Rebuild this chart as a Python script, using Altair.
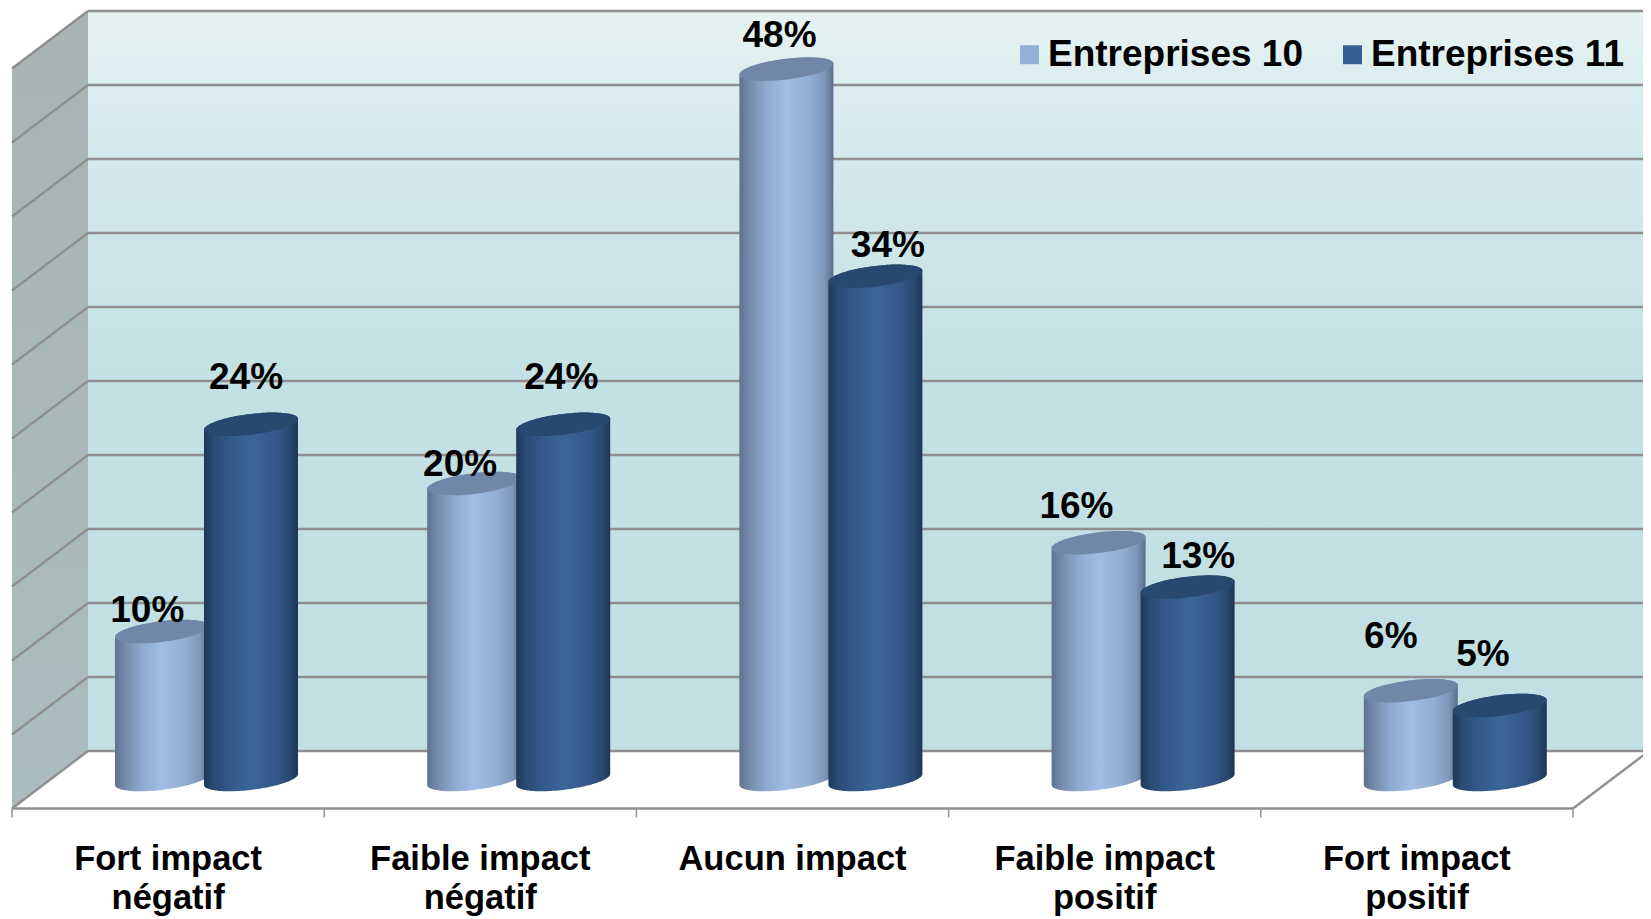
import numpy as np
import pandas as pd
import altair as alt

categories = ["Fort impact\nnégatif", "Faible impact\nnégatif", "Aucun impact",
              "Faible impact\npositif", "Fort impact\npositif"]
series_names = ["Entreprises 10", "Entreprises 11"]
entreprises_10 = [10, 20, 48, 16, 6]
entreprises_11 = [24, 24, 34, 13, 5]

# hand-placed data labels: offset from the bar centre (category units) and height above it (% units)
label_dx_10 = [-0.047, -0.045, -0.022, -0.071, -0.064]
label_dy_10 = [0.85, 0.75, 1.75, 1.9, 3.1]
label_dx_11 = [-0.016, -0.006, 0.04, 0.034, -0.054]
label_dy_11 = [2.6, 2.6, 1.55, 1.5, 2.9]

# ---- scales: one category = 312.2 px, one percentage point = 14.8 px
PX_U, PX_V = 312.2, 14.8
W, H = 1635, 909
X_DOMAIN = [(8 - 12) / PX_U, (8 + W - 12) / PX_U]
Y_DOMAIN = [(783 - (8 + H)) / PX_V, (783 - 8) / PX_V]
xs = alt.Scale(domain=X_DOMAIN, nice=False, zero=False)
ys = alt.Scale(domain=Y_DOMAIN, nice=False, zero=False)
X = lambda f: alt.X(f, type="quantitative", scale=xs, axis=None)
Y = lambda f: alt.Y(f, type="quantitative", scale=ys, axis=None)

# ---- 3D box geometry in data units
DEPTH_U, DEPTH_V = 76 / PX_U, 57.5 / PX_V
BACK0 = (783 - 751) / PX_V
FRONT0 = BACK0 - DEPTH_V
TOP_STEPS = list(range(0, 55, 5))
X_END = 5 + DEPTH_U

wall_back = pd.DataFrame([dict(x=DEPTH_U, x2=X_END, y=BACK0, y2=BACK0 + 50)])
wall_left = pd.DataFrame([
    dict(x=0, y=FRONT0 + 50, y2=FRONT0),
    dict(x=DEPTH_U, y=BACK0 + 50, y2=BACK0),
])

grid = [dict(x=DEPTH_U, x2=X_END, y=BACK0 + s, y2=BACK0 + s) for s in TOP_STEPS]
grid += [dict(x=0, x2=DEPTH_U, y=FRONT0 + s, y2=BACK0 + s) for s in TOP_STEPS]
grid += [dict(x=0, x2=5, y=FRONT0, y2=FRONT0), dict(x=5, x2=X_END, y=FRONT0, y2=BACK0)]
grid = pd.DataFrame(grid)

TICK_V = 9 / PX_V
ticks = pd.DataFrame([dict(x=i, x2=i, y=FRONT0, y2=FRONT0 - TICK_V) for i in range(6)])

# ---- cylinders
HALF_U = 47 / PX_U
SHEAR_V = 5.5 / PX_V
MINOR_V = 10.4 / PX_V
BASE_V = -2 / PX_V
LEFT_10, LEFT_11 = 103 / PX_U, 192 / PX_U
t = np.linspace(np.pi, 0, 61)
cx, cs = np.cos(t), np.sin(t)


def cylinders(values, left):
    body, cap = [], []
    for i, v in enumerate(values):
        c = i + left + HALF_U
        top = BASE_V + v + SHEAR_V
        bottom = BASE_V + SHEAR_V
        for a, b in zip(cx, cs):
            x = c + a * HALF_U
            body.append(dict(id=i, x=x,
                             y=top + a * SHEAR_V + b * MINOR_V,
                             y2=bottom + a * SHEAR_V - b * MINOR_V))
            cap.append(dict(id=i, x=x,
                            y=top + a * SHEAR_V + b * MINOR_V,
                            y2=top + a * SHEAR_V - b * MINOR_V))
    return pd.DataFrame(body), pd.DataFrame(cap)


def grad(stops):
    return alt.Gradient(gradient="linear", x1=0, y1=0, x2=1, y2=0,
                        stops=[alt.GradientStop(offset=o, color=c) for o, c in stops])


light = grad([(0, "#5d728e"), (0.1, "#7389a8"), (0.28, "#8ea9cf"), (0.5, "#a0bde4"),
              (0.74, "#93aed4"), (0.9, "#7f98bc"), (1, "#5b6e8a")])
dark = grad([(0, "#1f3858"), (0.1, "#2a4a74"), (0.28, "#34598a"), (0.52, "#3b6599"),
              (0.74, "#345a8b"), (0.9, "#2b4b75"), (1, "#1f3654")])


def area_layer(df, color):
    return alt.Chart(df).mark_area(color=color, opacity=1, strokeWidth=0).encode(
        x=X("x"), y=Y("y"), y2=alt.Y2("y2"), detail="id:N")


b10, c10 = cylinders(entreprises_10, LEFT_10)
b11, c11 = cylinders(entreprises_11, LEFT_11)

# ---- labels
rows = []
for i in range(5):
    rows.append(dict(x=i + LEFT_10 + HALF_U + label_dx_10[i],
                     y=entreprises_10[i] + label_dy_10[i], t=f"{entreprises_10[i]}%"))
    rows.append(dict(x=i + LEFT_11 + HALF_U + label_dx_11[i],
                     y=entreprises_11[i] + label_dy_11[i], t=f"{entreprises_11[i]}%"))
labels = pd.DataFrame(rows)

cat_rows = []
for i, c in enumerate(categories):
    cat_rows.append(dict(x=i + 0.5, y=FRONT0 - 61 / PX_V, t=c.split("\n")))
cats = pd.DataFrame(cat_rows)

FONT = "Liberation Sans"

back = alt.Chart(wall_back).mark_rect(
    color=alt.Gradient(gradient="linear", x1=0, y1=0, x2=0, y2=1, stops=[
        alt.GradientStop(offset=0, color="#e6f3f1"),
        alt.GradientStop(offset=0.1, color="#dcedf0"),
        alt.GradientStop(offset=0.2, color="#d4e9eb"),
        alt.GradientStop(offset=0.5, color="#c3e1e4"),
        alt.GradientStop(offset=1, color="#c2e0e3"),
    ])).encode(x=X("x"), x2=alt.X2("x2"), y=Y("y"), y2=alt.Y2("y2"))
left = alt.Chart(wall_left).mark_area(
    color=alt.Gradient(gradient="linear", x1=0, y1=0, x2=0, y2=1, stops=[
        alt.GradientStop(offset=0, color="#a9b3b3"),
        alt.GradientStop(offset=1, color="#aabdbe"),
    ])).encode(x=X("x"), y=Y("y"), y2=alt.Y2("y2"))
rules = alt.Chart(grid).mark_rule(color="#8f8f8f", strokeWidth=2.4).encode(
    x=X("x"), x2=alt.X2("x2"), y=Y("y"), y2=alt.Y2("y2"))
tick_rules = alt.Chart(ticks).mark_rule(color="#9a9a9a", strokeWidth=1.6).encode(
    x=X("x"), x2=alt.X2("x2"), y=Y("y"), y2=alt.Y2("y2"))

value_text = alt.Chart(labels).mark_text(
    font=FONT, fontWeight="bold", fontSize=37, color="#000000", align="center", baseline="alphabetic"
).encode(x=X("x"), y=Y("y"), text="t:N")
cat_text = alt.Chart(cats).mark_text(
    font=FONT, fontWeight="bold", fontSize=34.5, color="#000000", align="center",
    baseline="alphabetic", lineHeight=39.5
).encode(x=X("x"), y=Y("y"), text="t")

legend_src = pd.DataFrame(dict(x=[1.0, 1.0], y=[10.0, 10.0], s=series_names))
legend_layer = alt.Chart(legend_src).mark_square(opacity=0).encode(
    x=X("x"), y=Y("y"),
    color=alt.Color("s:N", scale=alt.Scale(domain=series_names, range=["#94b2d8", "#365f91"]),
                    legend=alt.Legend(
                        orient="none", legendX=1003, legendY=28, direction="horizontal",
                        title=None, symbolType="square", symbolSize=361, symbolOpacity=1,
                        symbolStrokeWidth=0, labelFont=FONT, labelFontSize=37,
                        labelFontWeight="bold", labelColor="#000000", labelLimit=400,
                        columnPadding=30, labelOffset=0, padding=0)),
)

chart = alt.layer(
    back, left, rules, tick_rules,
    area_layer(b10, light), area_layer(c10, "#7087a8"),
    area_layer(b11, dark), area_layer(c11, "#28486f"),
    value_text, cat_text, legend_layer,
).properties(
    width=W, height=H, padding=0,
    autosize=alt.AutoSizeParams(type="none"),
    background="#ffffff",
).configure_view(stroke=None)

chart.save("out.html", embed_options={"renderer": "svg", "actions": False})
